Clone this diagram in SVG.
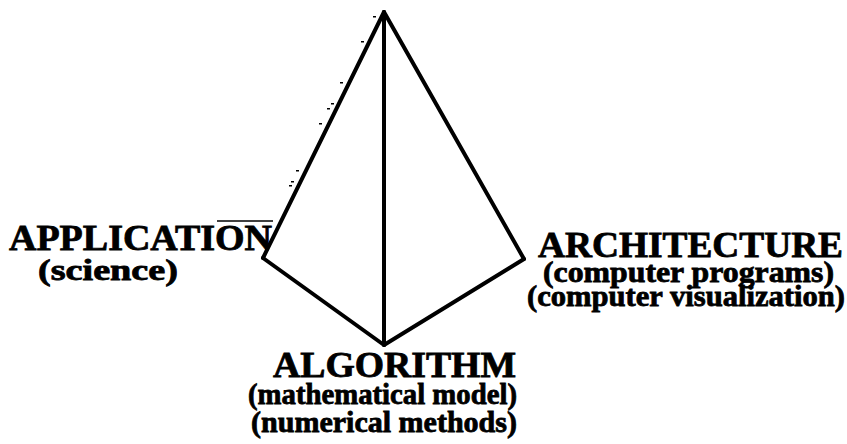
<svg xmlns="http://www.w3.org/2000/svg" width="847" height="444" viewBox="0 0 847 444">
<style>
.edge{stroke:#000;stroke-width:4;fill:none;stroke-linejoin:miter;stroke-linecap:round}
.t{font-family:"Liberation Serif","Times New Roman",serif;font-weight:bold;fill:#000;stroke:#000;stroke-width:0.8}
.big{font-size:36px}
.sub{font-size:30px}
.dash{fill:#000}
</style>
<rect width="847" height="444" fill="#fff"/>
<g id="connectors">
<line class="edge" x1="384" y1="12" x2="263" y2="258"/>
<line class="edge" x1="384" y1="12" x2="524" y2="259"/>
<line class="edge" x1="384" y1="12" x2="384" y2="345"/>
<line class="edge" x1="263" y1="258" x2="384" y2="345"/>
<line class="edge" x1="524" y1="259" x2="384" y2="345"/>
</g>
<g id="marks">
<rect class="dash" x="373" y="16" width="3" height="1.5"/>
<rect class="dash" x="361" y="41" width="3" height="1.5"/>
<rect class="dash" x="340" y="82" width="3" height="1.5"/>
<rect class="dash" x="331" y="103" width="3" height="1.5"/>
<rect class="dash" x="327" y="108" width="3" height="1.5"/>
<rect class="dash" x="319" y="123" width="3" height="1.5"/>
<rect class="dash" x="296" y="170" width="3" height="1.5"/>
<rect class="dash" x="291" y="181" width="3" height="1.5"/>
<rect class="dash" x="289" y="185" width="3" height="1.5"/>
<line x1="217" y1="221" x2="273" y2="221" stroke="#000" stroke-width="1.5"/>
</g>
<g id="application">
<text class="t big" x="9" y="250" textLength="263" lengthAdjust="spacingAndGlyphs">APPLICATION</text>
<text class="t sub" x="38" y="280" textLength="140" lengthAdjust="spacingAndGlyphs">(science)</text>
</g>
<g id="architecture">
<text class="t big" x="538" y="257" textLength="305" lengthAdjust="spacingAndGlyphs">ARCHITECTURE</text>
<text class="t sub" x="543" y="282" textLength="291" lengthAdjust="spacingAndGlyphs">(computer programs)</text>
<text class="t sub" x="527" y="306" textLength="318" lengthAdjust="spacingAndGlyphs">(computer visualization)</text>
</g>
<g id="algorithm">
<text class="t big" x="273" y="377" textLength="243" lengthAdjust="spacingAndGlyphs">ALGORITHM</text>
<text class="t sub" x="248" y="404" textLength="269" lengthAdjust="spacingAndGlyphs">(mathematical model)</text>
<text class="t sub" x="251" y="432" textLength="266" lengthAdjust="spacingAndGlyphs">(numerical methods)</text>
</g>
</svg>
